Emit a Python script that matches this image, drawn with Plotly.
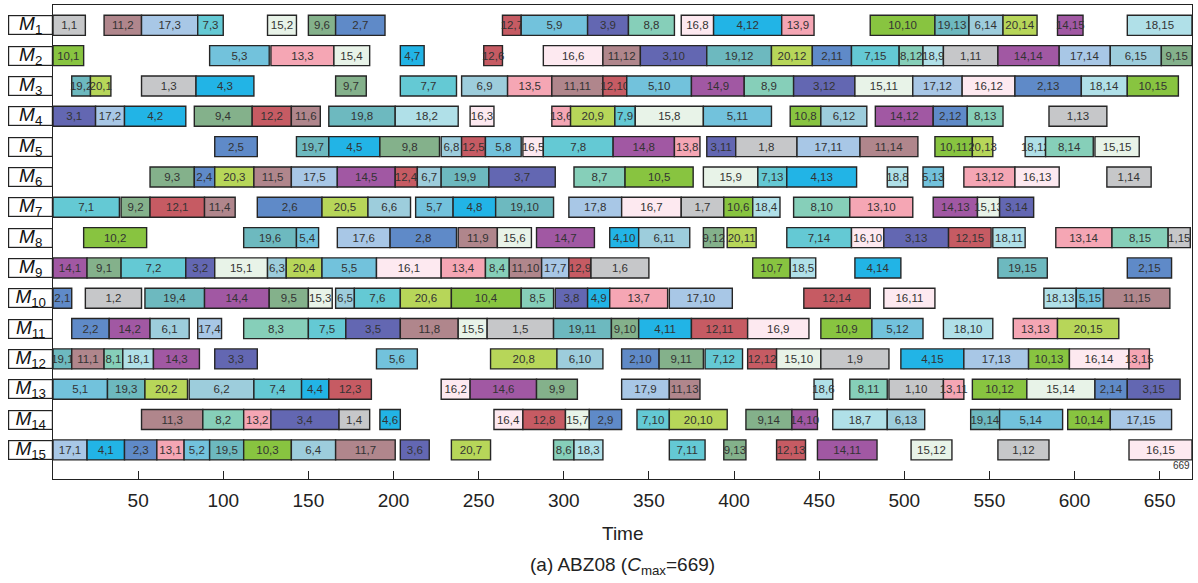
import plotly.graph_objects as go

# ---------------- data (job,operation labels; start; end) per machine ----------------
machines = ["M1", "M2", "M3", "M4", "M5", "M6", "M7", "M8", "M9", "M10",
            "M11", "M12", "M13", "M14", "M15"]
x_ticks = [50, 100, 150, 200, 250, 300, 350, 400, 450, 500, 550, 600, 650]
cmax = 669

m1_ops = ["1,1", "11,2", "17,3", "7,3", "15,2", "9,6", "2,7", "12,7", "5,9", "3,9",
          "8,8", "16,8", "4,12", "13,9", "10,10", "19,13", "6,14", "20,14", "14,15", "18,15"]
m1_start = [0, 30, 52, 85, 126, 150, 166, 264, 275, 314, 338, 369, 388, 428, 480, 518, 538, 558, 590, 631]
m1_end = [19, 52, 85, 100, 143, 166, 195, 275, 314, 338, 365, 388, 428, 447, 518, 538, 558, 578, 605, 669]

m2_ops = ["10,1", "5,3", "13,3", "15,4", "4,7", "12,6", "16,6", "11,12", "3,10", "19,12",
          "20,12", "2,11", "7,15", "8,12", "18,9", "1,11", "14,14", "17,14", "6,15", "9,15"]
m2_start = [0, 92, 128, 165, 204, 253, 288, 323, 345, 384, 422, 446, 469, 497, 511, 523, 555, 591, 621, 651]
m2_end = [18, 127, 165, 186, 218, 264, 323, 345, 384, 422, 446, 469, 497, 511, 523, 555, 591, 621, 651, 669]

m3_ops = ["19,2", "20,1", "1,3", "4,3", "9,7", "7,7", "6,9", "13,5", "11,11", "12,10",
          "5,10", "14,9", "8,9", "3,12", "15,11", "17,12", "16,12", "2,13", "18,14", "10,15"]
m3_start = [11, 22, 52, 84, 166, 204, 240, 267, 293, 323, 337, 375, 406, 435, 471, 505, 534, 565, 604, 631]
m3_end = [22, 34, 84, 118, 184, 237, 267, 293, 323, 337, 375, 406, 435, 471, 505, 534, 565, 604, 631, 661]

m4_ops = ["3,1", "17,2", "4,2", "9,4", "12,2", "11,6", "19,8", "18,2", "16,3", "13,6",
          "20,9", "7,9", "15,8", "5,11", "10,8", "6,12", "14,12", "2,12", "8,13", "1,13"]
m4_start = [0, 25, 42, 83, 117, 140, 162, 201, 245, 293, 304, 330, 342, 382, 433, 451, 483, 517, 537, 585]
m4_end = [25, 42, 78, 117, 140, 157, 201, 238, 259, 304, 330, 342, 382, 422, 451, 478, 517, 537, 558, 619]

m5_ops = ["2,5", "19,7", "4,5", "9,8", "6,8", "12,5", "5,8", "16,5", "7,8", "14,8",
          "13,8", "3,11", "1,8", "17,11", "11,14", "10,11", "20,13", "18,12", "8,14", "15,15"]
m5_start = [95, 143, 162, 192, 228, 240, 254, 276, 288, 329, 365, 384, 401, 437, 474, 518, 540, 571, 583, 612]
m5_end = [120, 162, 192, 227, 240, 254, 275, 288, 329, 365, 380, 401, 437, 474, 508, 540, 552, 583, 611, 638]

m6_ops = ["9,3", "2,4", "20,3", "11,5", "17,5", "14,5", "12,4", "6,7", "19,9", "3,7",
          "8,7", "10,5", "15,9", "7,13", "4,13", "18,8", "5,13", "13,12", "16,13", "1,14"]
m6_start = [57, 83, 95, 118, 140, 167, 201, 214, 228, 256, 306, 336, 382, 414, 431, 490, 511, 535, 565, 619]
m6_end = [83, 95, 118, 140, 167, 201, 214, 228, 256, 295, 336, 376, 414, 431, 472, 502, 523, 565, 591, 645]

m7_ops = ["7,1", "9,2", "12,1", "11,4", "2,6", "20,5", "6,6", "5,7", "4,8", "19,10",
          "17,8", "16,7", "1,7", "10,6", "18,4", "8,10", "13,10", "14,13", "15,13", "3,14"]
m7_start = [0, 40, 57, 89, 120, 158, 185, 213, 235, 260, 303, 334, 369, 394, 411, 435, 468, 517, 543, 556]
m7_end = [39, 57, 89, 107, 158, 185, 210, 235, 260, 294, 334, 369, 394, 411, 427, 468, 505, 543, 556, 576]

m8_ops = ["10,2", "19,6", "5,4", "17,6", "2,8", "11,9", "15,6", "14,7", "4,10", "6,11",
          "9,12", "20,11", "7,14", "16,10", "3,13", "12,15", "18,11", "13,14", "8,15", "1,15"]
m8_start = [18, 112, 143, 167, 198, 238, 261, 284, 327, 344, 382, 396, 431, 469, 488, 526, 552, 589, 622, 655]
m8_end = [55, 143, 156, 198, 237, 261, 281, 318, 344, 374, 394, 413, 469, 488, 526, 551, 571, 622, 655, 668]

m9_ops = ["14,1", "9,1", "7,2", "3,2", "15,1", "6,3", "20,4", "5,5", "16,1", "13,4",
          "8,4", "11,10", "17,7", "12,9", "1,6", "10,7", "18,5", "4,14", "19,15", "2,15"]
m9_start = [0, 20, 40, 78, 95, 126, 137, 158, 190, 228, 254, 268, 287, 303, 316, 411, 433, 471, 555, 631]
m9_end = [20, 40, 78, 95, 126, 137, 158, 190, 228, 254, 268, 287, 303, 316, 350, 433, 448, 498, 584, 657]

m10_ops = ["2,1", "1,2", "19,4", "14,4", "9,5", "15,3", "6,5", "7,6", "20,6", "10,4",
           "8,5", "3,8", "4,9", "13,7", "17,10", "12,14", "16,11", "18,13", "5,15", "11,15"]
m10_start = [0, 19, 54, 89, 127, 150, 166, 177, 204, 234, 275, 295, 314, 327, 362, 441, 488, 582, 601, 617]
m10_end = [11, 52, 89, 127, 150, 164, 177, 204, 234, 275, 294, 314, 327, 361, 399, 480, 518, 601, 617, 656]

m11_ops = ["2,2", "14,2", "6,1", "17,4", "8,3", "7,5", "3,5", "11,8", "15,5", "1,5",
           "19,11", "9,10", "4,11", "12,11", "16,9", "10,9", "5,12", "18,10", "13,13", "20,15"]
m11_start = [11, 33, 57, 85, 112, 150, 172, 204, 238, 255, 294, 328, 344, 375, 408, 451, 481, 523, 564, 590]
m11_end = [33, 57, 80, 99, 150, 172, 204, 238, 255, 294, 328, 344, 375, 408, 444, 481, 511, 552, 590, 626]

m12_ops = ["19,1", "11,1", "8,1", "18,1", "14,3", "3,3", "5,6", "20,8", "6,10", "2,10",
           "9,11", "7,12", "12,12", "15,10", "1,9", "4,15", "17,13", "10,13", "16,14", "13,15"]
m12_start = [0, 11, 30, 41, 59, 95, 190, 257, 296, 334, 356, 383, 408, 425, 451, 498, 535, 573, 597, 632]
m12_end = [11, 30, 41, 59, 86, 120, 214, 296, 323, 356, 382, 405, 425, 451, 491, 535, 573, 597, 632, 644]

m13_ops = ["5,1", "19,3", "20,2", "6,2", "7,4", "4,4", "12,3", "16,2", "14,6", "9,9",
           "17,9", "11,13", "18,6", "8,11", "1,10", "13,11", "10,12", "15,14", "2,14", "3,15"]
m13_start = [0, 32, 54, 80, 118, 146, 162, 228, 245, 284, 334, 362, 447, 468, 491, 523, 540, 572, 612, 631]
m13_end = [32, 54, 79, 118, 146, 162, 187, 245, 284, 308, 362, 380, 458, 490, 523, 535, 572, 612, 631, 662]

m14_ops = ["11,3", "8,2", "13,2", "3,4", "1,4", "4,6", "16,4", "12,8", "15,7", "2,9",
           "7,10", "20,10", "9,14", "14,10", "18,7", "6,13", "19,14", "5,14", "10,14", "17,15"]
m14_start = [52, 88, 112, 128, 168, 192, 259, 276, 301, 315, 343, 362, 407, 434, 458, 490, 539, 556, 596, 621]
m14_end = [88, 112, 128, 168, 186, 204, 276, 301, 315, 334, 362, 396, 434, 449, 490, 512, 556, 593, 621, 657]

m15_ops = ["17,1", "4,1", "2,3", "13,1", "5,2", "19,5", "10,3", "6,4", "11,7", "3,6",
           "20,7", "8,6", "18,3", "7,11", "9,13", "12,13", "14,11", "15,12", "1,12", "16,15"]
m15_start = [0, 20, 42, 61, 77, 92, 112, 140, 166, 204, 234, 294, 306, 362, 394, 425, 449, 504, 555, 632]
m15_end = [20, 42, 61, 77, 92, 112, 140, 166, 201, 221, 257, 306, 323, 383, 407, 442, 484, 528, 585, 669]

job_colors = ["#c6c7c9", "#5f8ac8", "#6367b2", "#22b4e6", "#72c2dc",
              "#9dcddc", "#64c9d4", "#86cfb9", "#84b18b", "#88c440",
              "#b0868c", "#c65b63", "#f5a6b4", "#a158a3", "#e8f3e8",
              "#fde9f0", "#a8c7e6", "#b0e0e8", "#6db9bf", "#b7d659"]

schedule = [
    (m1_ops, m1_start, m1_end), (m2_ops, m2_start, m2_end), (m3_ops, m3_start, m3_end),
    (m4_ops, m4_start, m4_end), (m5_ops, m5_start, m5_end), (m6_ops, m6_start, m6_end),
    (m7_ops, m7_start, m7_end), (m8_ops, m8_start, m8_end), (m9_ops, m9_start, m9_end),
    (m10_ops, m10_start, m10_end), (m11_ops, m11_start, m11_end), (m12_ops, m12_start, m12_end),
    (m13_ops, m13_start, m13_end), (m14_ops, m14_start, m14_end), (m15_ops, m15_start, m15_end),
]

FONT = "Liberation Sans, Arial, sans-serif"

fig = go.Figure()
for mname, (ops, st, en) in zip(machines, schedule):
    durs = [e - s for s, e in zip(st, en)]
    cols = [job_colors[int(o.split(",")[0]) - 1] for o in ops]
    fig.add_trace(go.Bar(
        y=[mname] * len(ops), x=durs, base=st, orientation="h",
        width=0.66,
        marker=dict(color=cols, line=dict(color="#262626", width=1.4)),
        text=ops, textposition="inside", insidetextanchor="middle",
        textangle=0, textfont=dict(size=11.5, color="#333333", family=FONT),
        cliponaxis=False, hoverinfo="skip", showlegend=False,
    ))

n = len(machines)
annotations = []
for i, mname in enumerate(machines):
    annotations.append(dict(
        x=0, xref="paper", xanchor="right", y=mname, yref="y",
        text="<i>M</i><sub>%d</sub>" % (i + 1), showarrow=False,
        font=dict(size=19, color="#111111", family=FONT),
        bgcolor="white", bordercolor="#222222", borderwidth=1.2, borderpad=0,
        width=43, height=18, align="center", valign="middle",
    ))

annotations.append(dict(
    x=cmax, xref="x", xanchor="right", y=machines[-1], yref="y", yshift=-16,
    text=str(cmax), showarrow=False, font=dict(size=10, color="#333333", family=FONT),
))
annotations.append(dict(
    x=0.5, xref="paper", y=-0.114, yref="paper", yanchor="middle",
    text="Time", showarrow=False, font=dict(size=19, color="#222222", family=FONT),
))
annotations.append(dict(
    x=0.5, xref="paper", y=-0.184, yref="paper", yanchor="middle",
    text="(a) ABZ08 (<i>C</i><sub>max</sub>=%d)" % cmax, showarrow=False,
    font=dict(size=19, color="#222222", family=FONT),
))

fig.update_layout(
    width=1198, height=583,
    margin=dict(l=53, r=6, t=5, b=104),
    plot_bgcolor="white", paper_bgcolor="white",
    barmode="overlay",
    uniformtext=dict(minsize=11.5, mode="show"),
    annotations=annotations,
    xaxis=dict(
        range=[0, cmax], tickvals=x_ticks, ticktext=[str(v) for v in x_ticks],
        showline=True, linecolor="#222222", linewidth=1.2, mirror=True,
        ticks="inside", ticklen=8, tickcolor="#222222", tickwidth=1,
        showgrid=False, zeroline=False,
        tickfont=dict(size=19, color="#222222", family=FONT),
        ticklabelstandoff=4,
    ),
    yaxis=dict(
        type="category", categoryorder="array", categoryarray=machines,
        range=[n - 1 + 0.96, -0.67],
        showline=True, linecolor="#222222", linewidth=1.2, mirror=True,
        showticklabels=False, ticks="", showgrid=False, zeroline=False,
    ),
)

fig.write_html("out.html")
